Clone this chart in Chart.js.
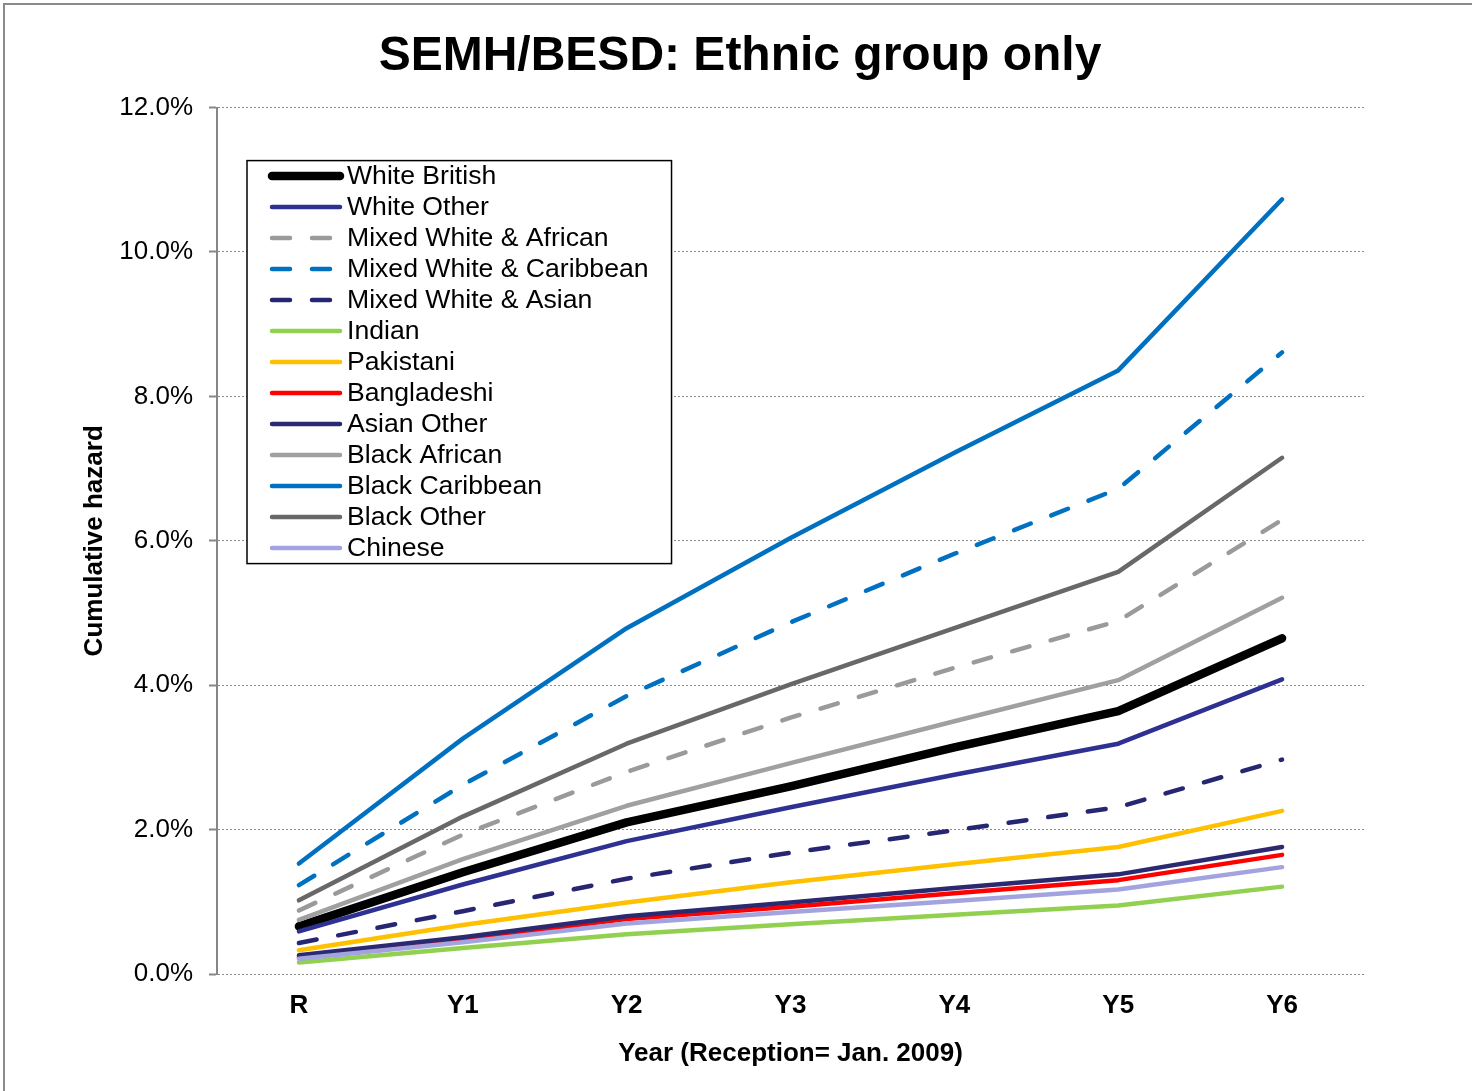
<!DOCTYPE html>
<html>
<head>
<meta charset="utf-8">
<title>SEMH/BESD: Ethnic group only</title>
<script src="https://cdn.jsdelivr.net/npm/chart.js@4.4.1/dist/chart.umd.min.js"></script>
<style>
  html, body { margin: 0; padding: 0; background: #ffffff; }
  #wrap { width: 1472px; height: 1091px; }
</style>
</head>
<body>
<div id="wrap"><canvas id="chart" width="1472" height="1091"></canvas></div>
<script>
// School years, Reception (Jan. 2009) through Year 6
const years = ['R', 'Y1', 'Y2', 'Y3', 'Y4', 'Y5', 'Y6'];

// Cumulative hazard (%) for each ethnic group
const whiteBritish        = [0.66, 1.41, 2.10, 2.60, 3.14, 3.64, 4.65];
const whiteOther          = [0.59, 1.24, 1.84, 2.31, 2.76, 3.19, 4.08];
const mixedWhiteAfrican   = [0.88, 1.93, 2.80, 3.55, 4.24, 4.89, 6.29];
const mixedWhiteCaribbean = [1.23, 2.62, 3.85, 4.87, 5.82, 6.72, 8.61];
const mixedWhiteAsian     = [0.43, 0.87, 1.32, 1.68, 1.99, 2.31, 2.97];
const indian              = [0.16, 0.36, 0.55, 0.69, 0.82, 0.95, 1.21];
const pakistani           = [0.33, 0.68, 0.99, 1.27, 1.52, 1.76, 2.26];
const bangladeshi         = [0.23, 0.48, 0.76, 0.93, 1.12, 1.30, 1.65];
const asianOther          = [0.26, 0.51, 0.80, 0.99, 1.19, 1.38, 1.76];
const blackAfrican        = [0.75, 1.59, 2.33, 2.92, 3.50, 4.07, 5.21];
const blackCaribbean      = [1.53, 3.26, 4.79, 6.04, 7.22, 8.36, 10.73];
const blackOther          = [1.02, 2.18, 3.19, 4.01, 4.79, 5.57, 7.15];
const chinese             = [0.21, 0.44, 0.70, 0.86, 1.01, 1.17, 1.48];

// Y axis ticks
const yTicks = [0, 2, 4, 6, 8, 10, 12];

const DASH = [18, 22];
const FONT = '"Liberation Sans", Arial, Helvetica, sans-serif';

function series(label, data, color, width, dash) {
  return {
    label: label,
    data: data,
    borderColor: color,
    backgroundColor: color,
    borderWidth: width,
    borderDash: dash || [],
    borderCapStyle: 'round',
    borderJoinStyle: 'round',
    pointRadius: 0,
    pointHoverRadius: 0,
    tension: 0,
    fill: false
  };
}

const datasets = [
  series('White British', whiteBritish, '#000000', 8.5),
  series('White Other', whiteOther, '#2E3192', 4.5),
  series('Mixed White & African', mixedWhiteAfrican, '#9A9A9A', 4.5, DASH),
  series('Mixed White & Caribbean', mixedWhiteCaribbean, '#0070C0', 4.5, DASH),
  series('Mixed White & Asian', mixedWhiteAsian, '#262673', 4.5, DASH),
  series('Indian', indian, '#92D050', 4.5),
  series('Pakistani', pakistani, '#FFC000', 4.5),
  series('Bangladeshi', bangladeshi, '#FF0000', 4.5),
  series('Asian Other', asianOther, '#2B2A70', 4.5),
  series('Black African', blackAfrican, '#A0A0A0', 4.5),
  series('Black Caribbean', blackCaribbean, '#0070C0', 4.5),
  series('Black Other', blackOther, '#686868', 4.5),
  series('Chinese', chinese, '#A3A3E0', 4.5)
];
// later series are painted over earlier ones
datasets.forEach((d, i) => { d.order = datasets.length - i; });

// white page with a thin grey frame along the top and left edges
const frame = {
  id: 'frame',
  beforeDraw(chart) {
    const ctx = chart.ctx;
    ctx.save();
    ctx.fillStyle = '#ffffff';
    ctx.fillRect(0, 0, chart.width, chart.height);
    ctx.strokeStyle = '#8a8a8a';
    ctx.lineWidth = 2;
    ctx.beginPath();
    ctx.moveTo(4, chart.height);
    ctx.lineTo(4, 4);
    ctx.lineTo(chart.width, 4);
    ctx.stroke();
    ctx.restore();
  }
};

// boxed legend drawn inside the plot area, upper left
const boxLegend = {
  id: 'boxLegend',
  afterDatasetsDraw(chart) {
    const ctx = chart.ctx;
    const area = chart.chartArea;
    const sets = chart.data.datasets;
    const rowH = 31;
    ctx.save();
    ctx.font = '26.6px ' + FONT;
    let maxW = 0;
    sets.forEach(d => { maxW = Math.max(maxW, ctx.measureText(d.label).width); });
    const x0 = area.left + 30;
    const y0 = area.top + 53;
    const w = 100 + maxW + 23;
    const h = rowH * sets.length;
    ctx.fillStyle = '#ffffff';
    ctx.fillRect(x0, y0, w, h);
    ctx.strokeStyle = '#000000';
    ctx.lineWidth = 1.5;
    ctx.strokeRect(x0, y0, w, h);
    sets.forEach((d, i) => {
      const cy = y0 + 15.5 + i * rowH;
      ctx.beginPath();
      ctx.strokeStyle = d.borderColor;
      ctx.lineWidth = d.borderWidth;
      ctx.lineCap = 'round';
      ctx.setLineDash(d.borderDash || []);
      ctx.moveTo(x0 + 25, cy);
      ctx.lineTo(x0 + 93, cy);
      ctx.stroke();
      ctx.setLineDash([]);
      ctx.fillStyle = '#000000';
      ctx.textAlign = 'left';
      ctx.textBaseline = 'middle';
      ctx.fillText(d.label, x0 + 100, cy + 1);
    });
    ctx.restore();
  }
};

new Chart(document.getElementById('chart'), {
  type: 'line',
  data: { labels: years, datasets: datasets },
  plugins: [frame, boxLegend],
  options: {
    responsive: false,
    animation: false,
    devicePixelRatio: 1,
    layout: { padding: { left: 8, top: 0, right: 0, bottom: 0 } },
    plugins: {
      legend: { display: false },
      tooltip: { enabled: false },
      title: {
        display: true,
        text: 'SEMH/BESD: Ethnic group only',
        color: '#000000',
        font: { family: FONT, size: 48, weight: 'bold' },
        padding: { top: 28, bottom: 22 }
      }
    },
    scales: {
      x: {
        type: 'category',
        offset: true,
        grid: { display: false, drawTicks: false },
        border: { display: false },
        ticks: {
          color: '#000000',
          padding: 16,
          font: { family: FONT, size: 26, weight: 'bold' }
        },
        title: {
          display: true,
          text: 'Year (Reception= Jan. 2009)',
          color: '#000000',
          font: { family: FONT, size: 26, weight: 'bold' },
          padding: { top: 0, bottom: 22 }
        },
        afterFit(scale) { scale.height = 117; }
      },
      y: {
        type: 'linear',
        position: 'left',
        min: yTicks[0],
        max: yTicks[yTicks.length - 1],
        afterBuildTicks(scale) { scale.ticks = yTicks.map(v => ({ value: v })); },
        grid: {
          color: '#8c8c8c',
          lineWidth: 1,
          tickLength: 8,
          tickColor: '#868686',
          tickWidth: 2
        },
        border: { display: true, color: '#868686', width: 2, dash: [2, 2] },
        ticks: {
          color: '#000000',
          padding: 16,
          font: { family: FONT, size: 26 },
          callback: v => v.toFixed(1) + '%'
        },
        title: {
          display: true,
          text: 'Cumulative hazard',
          color: '#000000',
          font: { family: FONT, size: 26, weight: 'bold' },
          padding: { top: 71, bottom: 0 }
        },
        afterFit(scale) { scale.width = 209; }
      },
      gutter: {
        type: 'linear',
        position: 'right',
        display: true,
        grid: { display: false, drawTicks: false },
        border: { display: false },
        ticks: { display: false },
        afterFit(scale) { scale.width = 108; }
      }
    }
  }
});
</script>
</body>
</html>
